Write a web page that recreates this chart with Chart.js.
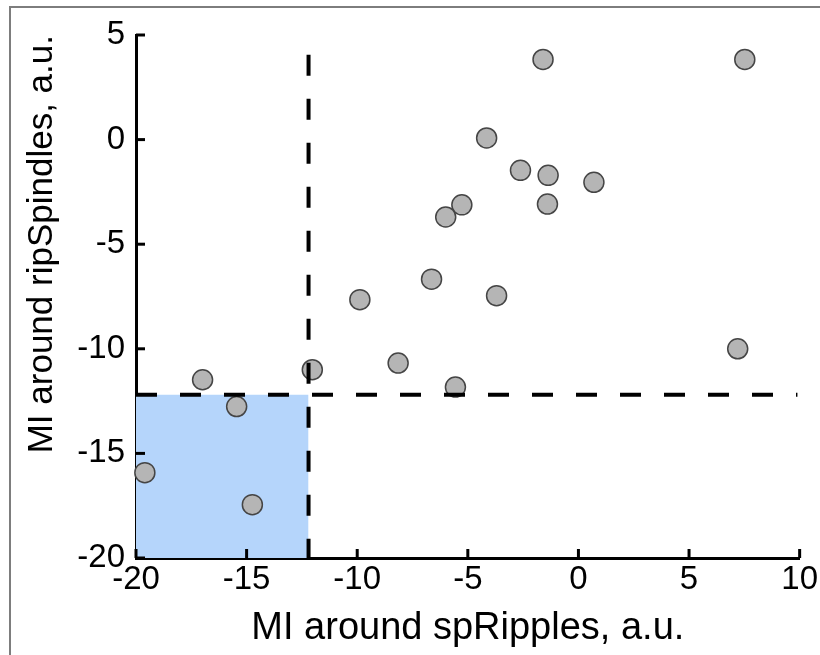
<!DOCTYPE html>
<html>
<head>
<meta charset="utf-8">
<script src="https://cdn.jsdelivr.net/npm/chart.js@4/dist/chart.umd.min.js"></script>
<style>
  html, body { margin: 0; padding: 0; background: #fff; }
  #frame { position: absolute; left: 9px; top: 6px; width: 900px; height: 700px; border: 2px solid #7d7d7d; }
  #wrap { position: absolute; left: 0; top: 0; width: 820px; height: 655px; }
</style>
</head>
<body>
<div id="frame"></div>
<div id="wrap"><canvas id="mi-scatter"></canvas></div>
<script>
// MI values for each recording (x: around spRipples, y: around ripSpindles)
const miSpRipples = [7.52, -1.60, -4.15, -2.62, -1.37, 0.70, -1.40, -5.27, -6.00, -6.64,
                     -9.88, -3.70, 7.20, -12.03, -8.15, -5.56, -16.99, -15.45, -19.60, -14.74];
const miRipSpindles = [3.83, 3.83, 0.08, -1.47, -1.71, -2.04, -3.08, -3.12, -3.70, -6.67,
                       -7.65, -7.46, -10.00, -11.00, -10.68, -11.83, -11.48, -12.76, -15.92, -17.45];

// threshold for both axes
const threshold = -12.2;
const xRange = [-20, 10];
const yRange = [-20, 5];
const vLineEnds = [4.05, -20];
const hLineEnds = [-20, 9.9];

const points = miSpRipples.map((x, i) => ({ x: x, y: miRipSpindles[i] }));

const fontFam = "'Liberation Sans', Arial, sans-serif";

const inwardTicks = {
  id: 'inwardTicks',
  afterDraw(chart) {
    const ctx = chart.ctx;
    const xs = chart.scales.x, ys = chart.scales.y;
    const area = chart.chartArea;
    ctx.save();
    ctx.strokeStyle = '#000';
    ctx.lineWidth = 3;
    xs.ticks.forEach(t => {
      const px = xs.getPixelForValue(t.value);
      ctx.beginPath();
      ctx.moveTo(px, area.bottom);
      ctx.lineTo(px, area.bottom - 9);
      ctx.stroke();
    });
    ys.ticks.forEach(t => {
      const py = ys.getPixelForValue(t.value);
      ctx.beginPath();
      ctx.moveTo(area.left, py);
      ctx.lineTo(area.left + 9, py);
      ctx.stroke();
    });
    ctx.restore();
  }
};

const ctx = document.getElementById('mi-scatter').getContext('2d');

const scatterMI = new Chart(ctx, {
  type: 'scatter',
  data: {
    datasets: [
      {
        // shaded quadrant below both thresholds
        type: 'line',
        data: [{ x: xRange[0], y: threshold }, { x: threshold, y: threshold }],
        fill: 'start',
        backgroundColor: '#b5d5fb',
        borderWidth: 0,
        pointRadius: 0,
        order: 3
      },
      {
        data: points,
        backgroundColor: '#b5b5b5',
        borderColor: '#454545',
        borderWidth: 1.5,
        pointRadius: 10,
        pointHoverRadius: 10,
        clip: false,
        order: 2
      },
      {
        type: 'line',
        data: [{ x: threshold, y: vLineEnds[0] }, { x: threshold, y: vLineEnds[1] }],
        borderColor: '#000',
        borderWidth: 4,
        borderDash: [21, 23],
        pointRadius: 0,
        fill: false,
        order: 1
      },
      {
        type: 'line',
        data: [{ x: hLineEnds[0], y: threshold }, { x: hLineEnds[1], y: threshold }],
        borderColor: '#000',
        borderWidth: 4,
        borderDash: [21, 23],
        pointRadius: 0,
        fill: false,
        order: 1
      }
    ]
  },
  options: {
    responsive: true,
    maintainAspectRatio: false,
    animation: false,
    events: [],
    layout: {
      padding: { top: 35, right: 20, left: 0, bottom: 0 }
    },
    scales: {
      x: {
        type: 'linear',
        min: xRange[0],
        max: xRange[1],
        afterFit(scale) { scale.height = 97; },
        ticks: {
          stepSize: 5,
          color: '#000',
          padding: 2,
          maxRotation: 0,
          font: { family: fontFam, size: 33 }
        },
        grid: { display: true, drawOnChartArea: false, drawTicks: false, color: 'rgba(0,0,0,0)' },
        border: { display: true, color: '#000', width: 3 },
        title: {
          display: true,
          text: 'MI around spRipples, a.u.',
          color: '#000',
          font: { family: fontFam, size: 38 },
          padding: { top: 0, bottom: 4 }
        }
      },
      y: {
        type: 'linear',
        min: yRange[0],
        max: yRange[1],
        afterFit(scale) { scale.width = 136; },
        ticks: {
          stepSize: 5,
          color: '#000',
          padding: 11,
          font: { family: fontFam, size: 33 }
        },
        grid: { display: true, drawOnChartArea: false, drawTicks: false, color: 'rgba(0,0,0,0)' },
        border: { display: true, color: '#000', width: 3 },
        title: {
          display: true,
          text: 'MI around ripSpindles, a.u.',
          align: 'end',
          color: '#000',
          font: { family: fontFam, size: 35 },
          padding: { top: 21, bottom: 0 }
        }
      }
    },
    plugins: {
      legend: { display: false },
      tooltip: { enabled: false }
    }
  },
  plugins: [inwardTicks]
});
</script>
</body>
</html>
